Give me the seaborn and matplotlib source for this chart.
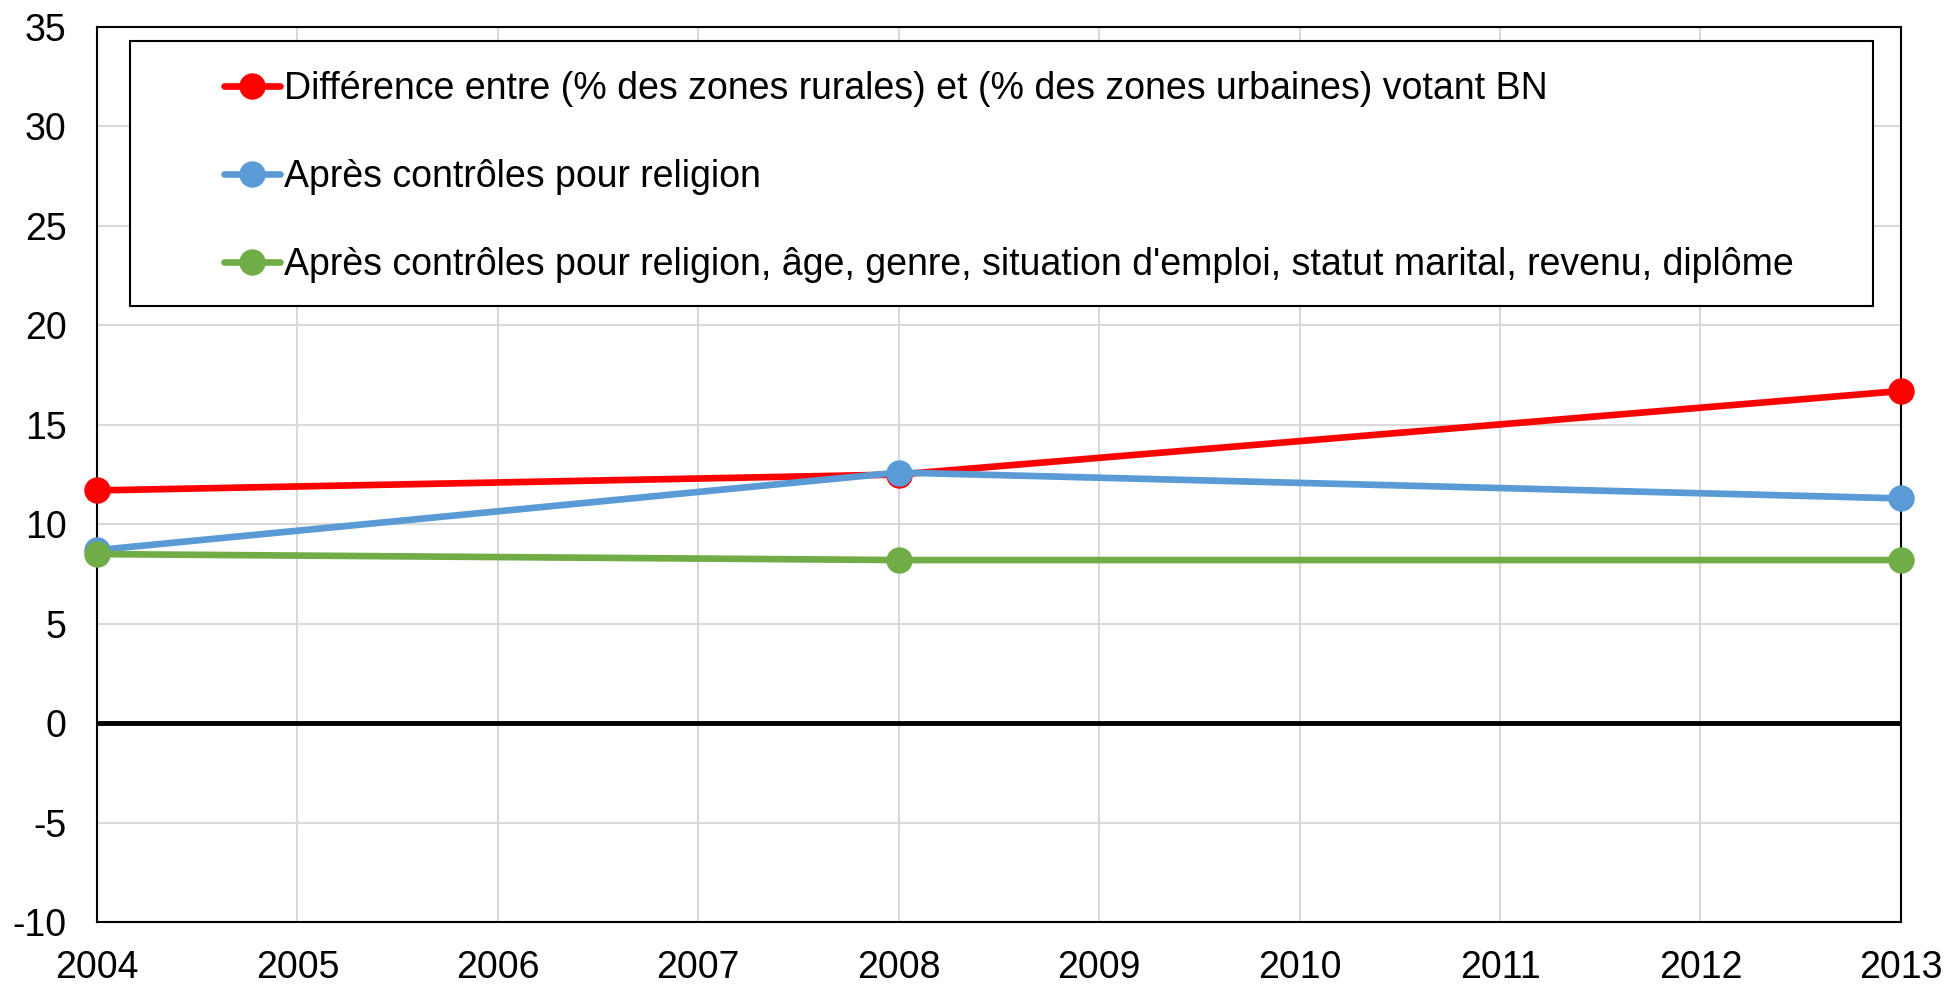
import matplotlib
matplotlib.use("Agg")
import matplotlib.pyplot as plt
from matplotlib.patches import Rectangle
import seaborn as sns
import pandas as pd

years = [2004, 2008, 2013]
red_vals = [11.7, 12.5, 16.7]
blue_vals = [8.7, 12.6, 11.3]
green_vals = [8.5, 8.2, 8.2]
labels = [
    "Différence entre (% des zones rurales) et (% des zones urbaines) votant BN",
    "Après contrôles pour religion",
    "Après contrôles pour religion, âge, genre, situation d'emploi, statut marital, revenu, diplôme",
]
colors = ["#ff0000", "#5b9bd5", "#70ad47"]

df = pd.concat([
    pd.DataFrame({"year": years, "value": vals, "serie": lab})
    for vals, lab in zip([red_vals, blue_vals, green_vals], labels)
])

sns.set_style("white")
plt.rcParams["font.family"] = ["Liberation Sans", "DejaVu Sans"]
plt.rcParams["axes.unicode_minus"] = False
plt.rcParams["text.color"] = "black"

fig = plt.figure(figsize=(19.48, 9.84), dpi=100)
ax = fig.add_axes([0.0498, 0.063, 0.926, 0.9095])

sns.lineplot(data=df, x="year", y="value", hue="serie", palette=colors,
             marker="o", markersize=19, markeredgewidth=0, linewidth=4.8,
             ax=ax, zorder=3)
for ln in ax.lines:
    ln.set_clip_on(False)

ax.set_xlim(2004, 2013)
ax.set_ylim(-10, 35)
ax.set_xticks(range(2004, 2014))
ax.set_yticks(range(-10, 36, 5))
ax.grid(True, color="#d9d9d9", linewidth=1.5, zorder=0)
ax.axhline(0, color="black", linewidth=3.5, zorder=2)
for s in ax.spines.values():
    s.set_color("black")
    s.set_linewidth(1.5)
ax.tick_params(axis="both", labelsize=27, length=0, colors="black")
ax.tick_params(axis="x", pad=20)
ax.tick_params(axis="y", pad=22)
ax.set_xlabel("")
ax.set_ylabel("")

# legend box drawn separately (wide inner margin as in the original)
ax.add_patch(Rectangle((0.0185, 0.6887), 0.9662, 0.2957, transform=ax.transAxes,
                       facecolor="white", edgecolor="black", linewidth=1.5, zorder=4))
leg = ax.legend(loc="upper left", bbox_to_anchor=(0.0702, 0.9506), fontsize=27,
                frameon=False, borderpad=0, labelspacing=1.38,
                handlelength=1.5, handletextpad=0.1, borderaxespad=0,
                title=None)
leg.set_zorder(5)

fig.savefig("out.png", dpi=100)
